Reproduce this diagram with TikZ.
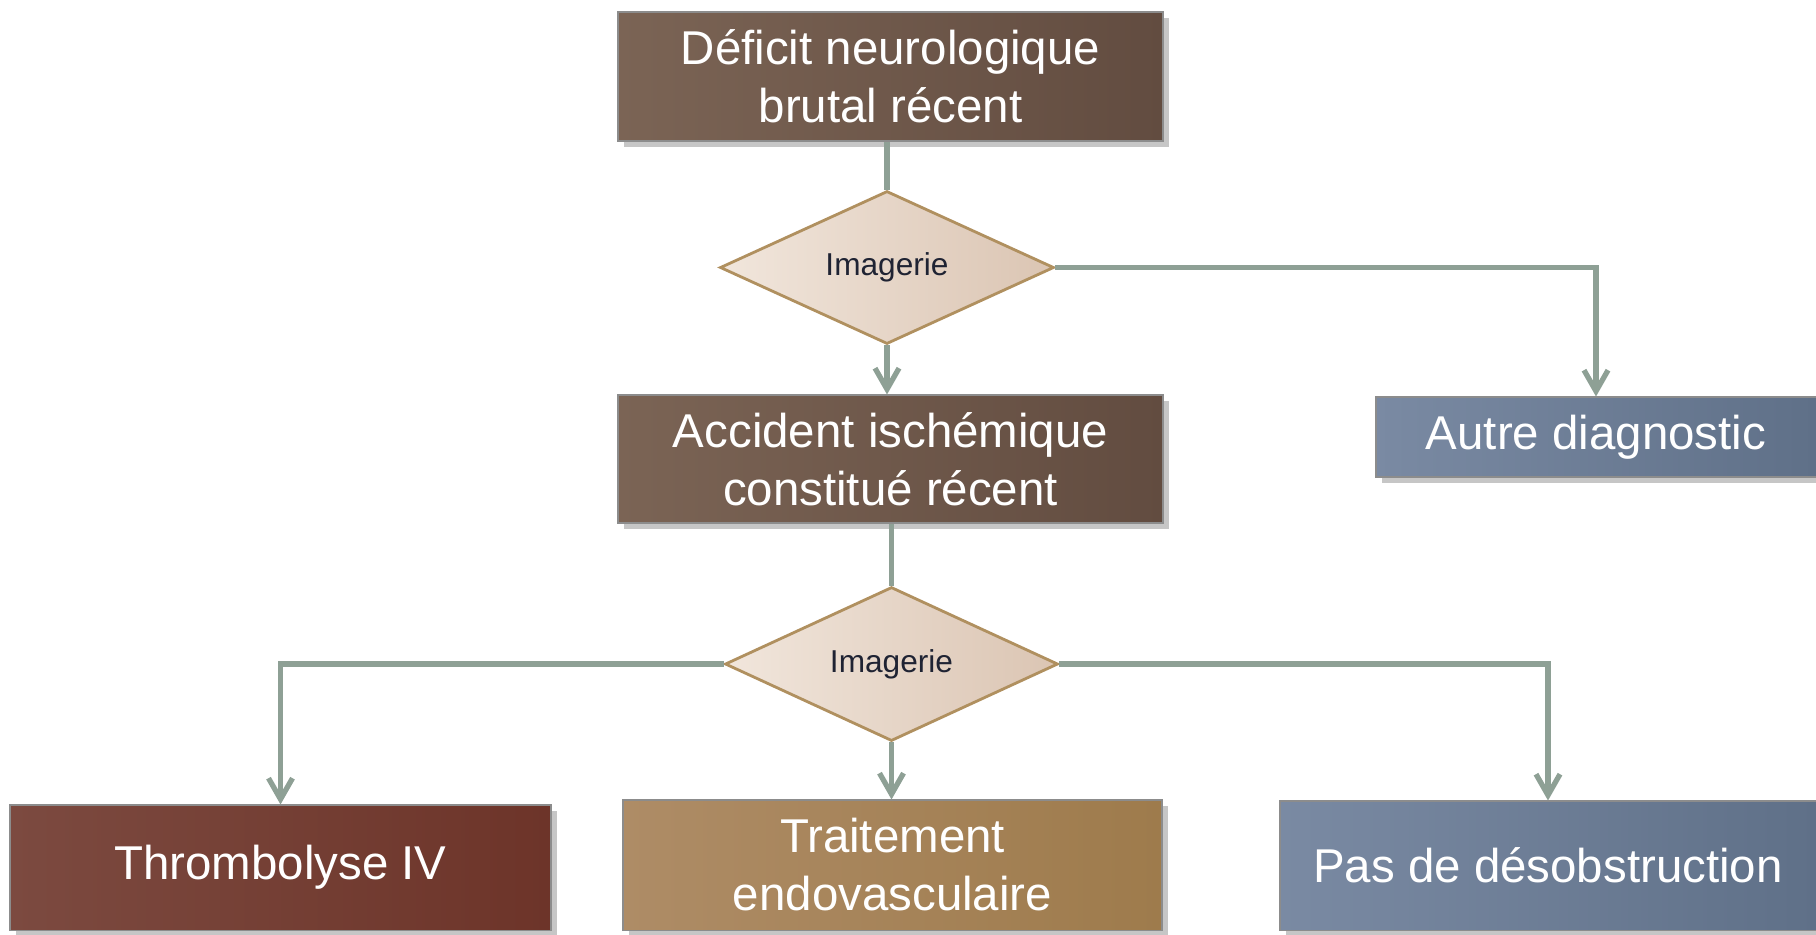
\documentclass[tikz,border=0pt]{standalone}
\usepackage{fontspec}
\setmainfont{Liberation Sans}
\usepackage{tikz}
\usetikzlibrary{arrows.meta,positioning,shapes.geometric,shadows}
\definecolor{cBrownL}{HTML}{7B6455}
\definecolor{cBrownR}{HTML}{624C40}
\definecolor{cSlateL}{HTML}{7A8AA3}
\definecolor{cSlateR}{HTML}{5F7088}
\definecolor{cRustL}{HTML}{7C4A40}
\definecolor{cRustM}{HTML}{843F33}
\definecolor{cRustR}{HTML}{6D3429}
\definecolor{cTanL}{HTML}{AE8C66}
\definecolor{cTanM}{HTML}{B38D5B}
\definecolor{cTanR}{HTML}{9E7B4C}
\definecolor{cDiaL}{HTML}{F1E6DC}
\definecolor{cDiaR}{HTML}{DBC5B3}
\definecolor{cDiaEdge}{HTML}{B0905F}
\definecolor{cLink}{HTML}{8EA095}
\definecolor{cInk}{HTML}{1F2333}
\tikzset{
  >={Straight Barb[length=2.1mm, width=2.4mm, line width=1.5pt]},
  stepbox/.style={draw=black!45, line width=0.3pt, align=center, text=white,
                  font=\fontsize{13.5}{16.5}\selectfont,
                  drop shadow={opacity=0.45, shadow xshift=0.6mm, shadow yshift=-0.6mm}},
  brownbox/.style={stepbox, left color=cBrownL, right color=cBrownR},
  bluebox/.style={stepbox, left color=cSlateL, right color=cSlateR},
  rustbox/.style={stepbox, left color=cRustL, middle color=cRustM, right color=cRustR},
  tanbox/.style={stepbox, left color=cTanL, middle color=cTanM, right color=cTanR},
  decision/.style={diamond, draw=cDiaEdge, line width=0.8pt, inner sep=0,
                   left color=cDiaL, right color=cDiaR, text=cInk,
                   font=\fontsize{9}{11}\selectfont},
  conn/.style={draw=cLink, line width=1.5pt},
  arr/.style={conn, ->},
}

\begin{document}
\begin{tikzpicture}
    \useasboundingbox (0,0) rectangle (18.16,-9.34);
    % boxes
    \node[brownbox, minimum width=5.45cm, minimum height=1.29cm] (deficit) at (8.905,-0.765)
        {Déficit neurologique\\brutal récent};
    \node[decision, minimum width=3.34cm, minimum height=1.53cm] (img1) at (8.87,-2.675) {Imagerie};
    \node[brownbox, minimum width=5.45cm, minimum height=1.28cm] (ischemie) at (8.905,-4.59)
        {Accident ischémique\\constitué récent};
    \node[bluebox, minimum width=4.4cm, minimum height=0.8cm] (autre) at (15.96,-4.37)
        {Autre diagnostic};
    \node[decision, minimum width=3.33cm, minimum height=1.54cm] (img2) at (8.915,-6.64) {Imagerie};
    \node[rustbox, minimum width=5.41cm, minimum height=1.25cm] (thrombo) at (2.805,-8.675)
        {Thrombolyse IV};
    \node[tanbox, minimum width=5.39cm, minimum height=1.3cm] (endo) at (8.925,-8.65)
        {Traitement\\endovasculaire};
    \node[bluebox, minimum width=5.36cm, minimum height=1.29cm] (pas) at (15.48,-8.655)
        {Pas de désobstruction};
    % connectors
    \draw[conn] (deficit.south -| img1.north) -- (img1.north);
    \draw[arr] (img1.south) -- (img1.south |- ischemie.north);
    \draw[arr] (img1.east) -| (autre.north);
    \draw[conn] (ischemie.south -| img2.north) -- (img2.north);
    \draw[arr] (img2.west) -| (thrombo.north);
    \draw[arr] (img2.south) -- (img2.south |- endo.north);
    \draw[arr] (img2.east) -| (pas.north);
\end{tikzpicture}
\end{document}
